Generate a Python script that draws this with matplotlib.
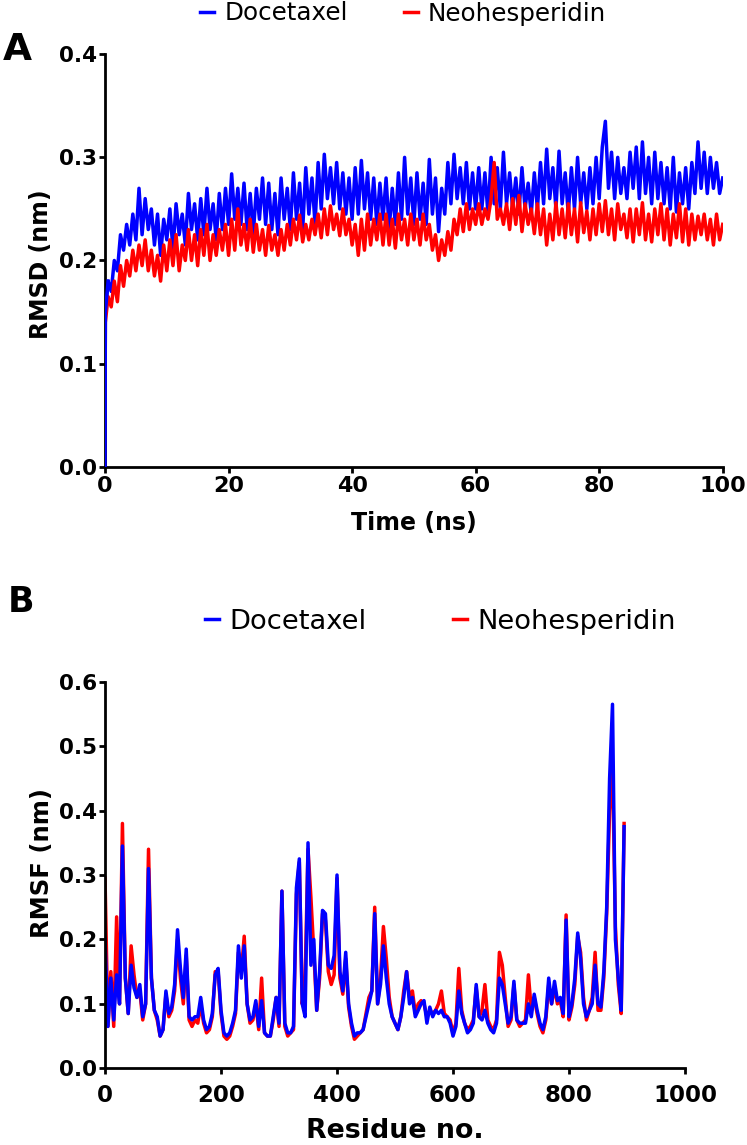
import numpy as np
import matplotlib
matplotlib.use('Agg')
import matplotlib.pyplot as plt

# A - RMSD vs time (ns), every 0.5 ns
rmsd_time = np.concatenate([[0.0, 0.05], np.arange(0.5, 100.5, 0.5)])

rmsd_docetaxel = [
    0.0, 0.15,
    0.18, 0.17, 0.20, 0.19, 0.225, 0.21, 0.235, 0.215, 0.245, 0.22,
    0.27, 0.225, 0.26, 0.23, 0.25, 0.215, 0.245, 0.205, 0.24, 0.22,
    0.25, 0.21, 0.255, 0.225, 0.245, 0.215, 0.265, 0.23, 0.255, 0.22,
    0.26, 0.225, 0.27, 0.23, 0.255, 0.22, 0.265, 0.23, 0.27, 0.235,
    0.284, 0.24, 0.27, 0.235, 0.275, 0.23, 0.265, 0.225, 0.27, 0.24,
    0.28, 0.235, 0.275, 0.23, 0.265, 0.225, 0.28, 0.24, 0.27, 0.23,
    0.285, 0.24, 0.275, 0.23, 0.29, 0.245, 0.28, 0.235, 0.295, 0.25,
    0.303, 0.26, 0.29, 0.255, 0.295, 0.25, 0.285, 0.245, 0.28, 0.24,
    0.29, 0.245, 0.297, 0.25, 0.285, 0.24, 0.28, 0.235, 0.275, 0.24,
    0.28, 0.23, 0.27, 0.235, 0.285, 0.24, 0.30, 0.245, 0.28, 0.235,
    0.285, 0.24, 0.275, 0.235, 0.298, 0.245, 0.28, 0.228, 0.27, 0.245,
    0.295, 0.255, 0.303, 0.26, 0.29, 0.255, 0.295, 0.25, 0.285, 0.25,
    0.29, 0.25, 0.285, 0.245, 0.30, 0.255, 0.29, 0.25, 0.305, 0.255,
    0.285, 0.25, 0.28, 0.245, 0.29, 0.25, 0.275, 0.245, 0.285, 0.25,
    0.295, 0.255, 0.308, 0.26, 0.29, 0.25, 0.306, 0.255, 0.285, 0.245,
    0.29, 0.25, 0.30, 0.255, 0.285, 0.25, 0.29, 0.255, 0.30, 0.26,
    0.31, 0.335, 0.27, 0.305, 0.26, 0.30, 0.265, 0.29, 0.26, 0.305,
    0.27, 0.31, 0.26, 0.315, 0.265, 0.30, 0.255, 0.305, 0.26, 0.295,
    0.255, 0.29, 0.25, 0.30, 0.247, 0.285, 0.255, 0.29, 0.25, 0.295,
    0.265, 0.315, 0.27, 0.305, 0.265, 0.30, 0.27, 0.295, 0.265, 0.28,
]

rmsd_neohesperidin = [
    0.0, 0.14,
    0.165, 0.155, 0.18, 0.16, 0.195, 0.175, 0.20, 0.185, 0.21, 0.19,
    0.215, 0.195, 0.22, 0.19, 0.21, 0.185, 0.205, 0.18, 0.215, 0.19,
    0.22, 0.195, 0.225, 0.19, 0.215, 0.20, 0.23, 0.20, 0.225, 0.195,
    0.23, 0.205, 0.235, 0.20, 0.225, 0.205, 0.23, 0.21, 0.235, 0.205,
    0.24, 0.21, 0.25, 0.215, 0.235, 0.21, 0.24, 0.208, 0.235, 0.21,
    0.23, 0.205, 0.234, 0.21, 0.225, 0.205, 0.23, 0.21, 0.235, 0.215,
    0.24, 0.22, 0.244, 0.218, 0.235, 0.22, 0.24, 0.225, 0.245, 0.222,
    0.25, 0.225, 0.253, 0.23, 0.245, 0.224, 0.25, 0.225, 0.24, 0.215,
    0.235, 0.205, 0.24, 0.21, 0.245, 0.215, 0.24, 0.22, 0.245, 0.215,
    0.245, 0.215, 0.24, 0.212, 0.245, 0.22, 0.24, 0.215, 0.245, 0.22,
    0.24, 0.215, 0.245, 0.22, 0.235, 0.21, 0.225, 0.20, 0.22, 0.205,
    0.228, 0.21, 0.24, 0.225, 0.25, 0.228, 0.255, 0.23, 0.25, 0.235,
    0.255, 0.235, 0.25, 0.24, 0.26, 0.295, 0.24, 0.25, 0.235, 0.255,
    0.23, 0.26, 0.235, 0.263, 0.228, 0.255, 0.235, 0.25, 0.226, 0.255,
    0.225, 0.25, 0.215, 0.245, 0.22, 0.256, 0.225, 0.25, 0.222, 0.255,
    0.225, 0.25, 0.218, 0.256, 0.227, 0.248, 0.22, 0.25, 0.225, 0.255,
    0.228, 0.258, 0.225, 0.25, 0.22, 0.255, 0.23, 0.245, 0.222, 0.25,
    0.218, 0.25, 0.225, 0.256, 0.22, 0.245, 0.218, 0.25, 0.225, 0.255,
    0.22, 0.25, 0.215, 0.245, 0.222, 0.255, 0.218, 0.25, 0.215, 0.245,
    0.22, 0.243, 0.225, 0.245, 0.22, 0.24, 0.215, 0.245, 0.22, 0.235,
]

rmsf_residue = np.arange(0, 900, 5)

rmsf_docetaxel = [
    0.20, 0.065, 0.14, 0.075, 0.145, 0.10, 0.345, 0.14, 0.085, 0.16,
    0.125, 0.11, 0.13, 0.08, 0.10, 0.31, 0.14, 0.09, 0.08, 0.05,
    0.06, 0.12, 0.085, 0.095, 0.13, 0.215, 0.155, 0.11, 0.185, 0.08,
    0.075, 0.08, 0.08, 0.11, 0.075, 0.06, 0.065, 0.085, 0.145, 0.155,
    0.09, 0.055, 0.05, 0.055, 0.07, 0.09, 0.19, 0.14, 0.19, 0.10,
    0.075, 0.08, 0.105, 0.065, 0.105, 0.055, 0.05, 0.05, 0.08, 0.11,
    0.07, 0.275, 0.07, 0.055, 0.055, 0.065, 0.28, 0.325, 0.10, 0.08,
    0.35, 0.16, 0.20, 0.09, 0.15, 0.245, 0.24, 0.16, 0.155, 0.175,
    0.30, 0.15, 0.12, 0.18, 0.10, 0.07, 0.05, 0.055, 0.055, 0.06,
    0.08, 0.10, 0.12, 0.24, 0.10, 0.13, 0.19, 0.14, 0.10, 0.08,
    0.07, 0.06, 0.08, 0.11, 0.15, 0.10, 0.11, 0.08, 0.09, 0.10,
    0.105, 0.07, 0.095, 0.08, 0.09, 0.085, 0.09, 0.08, 0.08, 0.07,
    0.05, 0.065, 0.12, 0.085, 0.07, 0.055, 0.06, 0.07, 0.13, 0.08,
    0.075, 0.09, 0.07, 0.06, 0.055, 0.07, 0.14, 0.13, 0.10, 0.07,
    0.08, 0.135, 0.075, 0.07, 0.07, 0.07, 0.10, 0.08, 0.115, 0.09,
    0.07, 0.06, 0.08, 0.14, 0.10, 0.135, 0.105, 0.11, 0.085, 0.23,
    0.08, 0.10, 0.14, 0.21, 0.17, 0.10, 0.08, 0.09, 0.10, 0.16,
    0.10, 0.095, 0.15, 0.25, 0.45, 0.565, 0.20, 0.14, 0.09, 0.375,
]

rmsf_neohesperidin = [
    0.295, 0.065, 0.15, 0.065, 0.235, 0.10, 0.38, 0.14, 0.085, 0.19,
    0.145, 0.11, 0.12, 0.075, 0.10, 0.34, 0.14, 0.09, 0.075, 0.05,
    0.06, 0.115, 0.08, 0.09, 0.12, 0.20, 0.14, 0.10, 0.175, 0.075,
    0.065, 0.075, 0.07, 0.10, 0.07, 0.055, 0.06, 0.08, 0.15, 0.15,
    0.085, 0.05, 0.045, 0.05, 0.065, 0.085, 0.18, 0.15, 0.205, 0.10,
    0.07, 0.075, 0.10, 0.06, 0.14, 0.055, 0.05, 0.05, 0.075, 0.11,
    0.065, 0.275, 0.065, 0.05, 0.055, 0.06, 0.27, 0.32, 0.10, 0.14,
    0.34, 0.265, 0.18, 0.09, 0.14, 0.24, 0.23, 0.15, 0.13, 0.145,
    0.295, 0.14, 0.115, 0.17, 0.095, 0.065, 0.045, 0.05, 0.055, 0.06,
    0.085, 0.11, 0.12, 0.25, 0.10, 0.14, 0.22, 0.17, 0.11, 0.08,
    0.07, 0.06, 0.08, 0.12, 0.15, 0.11, 0.12, 0.085, 0.10, 0.105,
    0.10, 0.08, 0.09, 0.085, 0.09, 0.10, 0.12, 0.085, 0.08, 0.075,
    0.055, 0.07, 0.155, 0.09, 0.07, 0.06, 0.065, 0.075, 0.125, 0.08,
    0.09, 0.13, 0.075, 0.065, 0.06, 0.075, 0.18, 0.16, 0.11, 0.065,
    0.075, 0.13, 0.075, 0.065, 0.07, 0.075, 0.145, 0.09, 0.11, 0.085,
    0.065, 0.055, 0.075, 0.13, 0.10, 0.125, 0.10, 0.105, 0.08, 0.238,
    0.075, 0.095, 0.13, 0.205, 0.18, 0.11, 0.075, 0.09, 0.11, 0.18,
    0.09, 0.09, 0.14, 0.24, 0.40, 0.47, 0.22, 0.13, 0.085, 0.38,
]

blue = '#0000ff'
red = '#ff0000'


def prism_axes(ax, xsize, ysize):
    # GraphPad-like look: only left/bottom spines, thick, ticks outward
    for s in ['top', 'right']:
        ax.spines[s].set_visible(False)
    for s in ['left', 'bottom']:
        ax.spines[s].set_linewidth(2.0)
    ax.tick_params(direction='out', length=4, width=2.0)
    ax.tick_params(axis='y', pad=2)
    for lab in ax.get_xticklabels():
        lab.set_fontsize(xsize)
        lab.set_fontweight('bold')
    for lab in ax.get_yticklabels():
        lab.set_fontsize(ysize)
        lab.set_fontweight('bold')


fig = plt.figure(figsize=(7.47, 11.45), dpi=100)

# ---- panel A ----
axA = fig.add_axes([0.1406, 0.5924, 0.8269, 0.3602])
axA.plot(rmsd_time, rmsd_docetaxel, color=blue, lw=2.5, label='Docetaxel')
axA.plot(rmsd_time, rmsd_neohesperidin, color=red, lw=2.5, label='Neohesperidin')
# the initial blue jump from 0 sits on top in the original
axA.plot(rmsd_time[:3], rmsd_docetaxel[:3], color=blue, lw=2.5, zorder=3)
axA.set_xlim(0, 100)
axA.set_ylim(0, 0.4)
axA.set_xticks([0, 20, 40, 60, 80, 100])
axA.set_yticks([0.0, 0.1, 0.2, 0.3, 0.4])
axA.set_yticklabels(['0.0', '0.1', '0.2', '0.3', '0.4'])
prism_axes(axA, 16, 15.5)
axA.tick_params(axis='x', pad=3)
axA.set_xlabel('Time (ns)', fontsize=17, fontweight='bold', va='top')
axA.xaxis.set_label_coords(0.5, -0.108)
axA.set_ylabel('RMSD (nm)', fontsize=17, fontweight='bold')
axA.yaxis.set_label_coords(-0.084, 0.49)
axA.legend(loc='center', bbox_to_anchor=(403 / 747, 1 - 13.5 / 1145),
           bbox_transform=fig.transFigure, ncol=2, frameon=False,
           fontsize=17.7, handlelength=0.57, handletextpad=0.4,
           columnspacing=2.28, borderpad=0)

fig.text(3 / 747, 1 - 60 / 1145, 'A', fontsize=27, fontweight='bold')

# ---- panel B ----
axB = fig.add_axes([0.1406, 0.0670, 0.7764, 0.3376])
axB.plot(rmsf_residue, rmsf_neohesperidin, color=red, lw=2.5, label='Neohesperidin')
axB.plot(rmsf_residue, rmsf_docetaxel, color=blue, lw=2.5, label='Docetaxel')
axB.set_xlim(0, 1000)
axB.set_ylim(0, 0.6)
axB.set_xticks([0, 200, 400, 600, 800, 1000])
axB.set_yticks([0.0, 0.1, 0.2, 0.3, 0.4, 0.5, 0.6])
axB.set_yticklabels(['0.0', '0.1', '0.2', '0.3', '0.4', '0.5', '0.6'])
prism_axes(axB, 16.5, 15.5)
axB.tick_params(axis='x', pad=7)
axB.set_xlabel('Residue no.', fontsize=19.4, fontweight='bold', va='top')
axB.xaxis.set_label_coords(0.5, -0.128)
axB.set_ylabel('RMSF (nm)', fontsize=17.5, fontweight='bold')
axB.yaxis.set_label_coords(-0.088, 0.53)
h, l = axB.get_legend_handles_labels()
axB.legend(h[::-1], l[::-1], loc='center', bbox_to_anchor=(440.5 / 747, 1 - 622 / 1145),
           bbox_transform=fig.transFigure, ncol=2, frameon=False,
           fontsize=19.7, handlelength=0.51, handletextpad=0.36,
           columnspacing=3.17, borderpad=0)

fig.text(8 / 747, 1 - 612 / 1145, 'B', fontsize=25, fontweight='bold')

fig.savefig('out.png', dpi=100)
